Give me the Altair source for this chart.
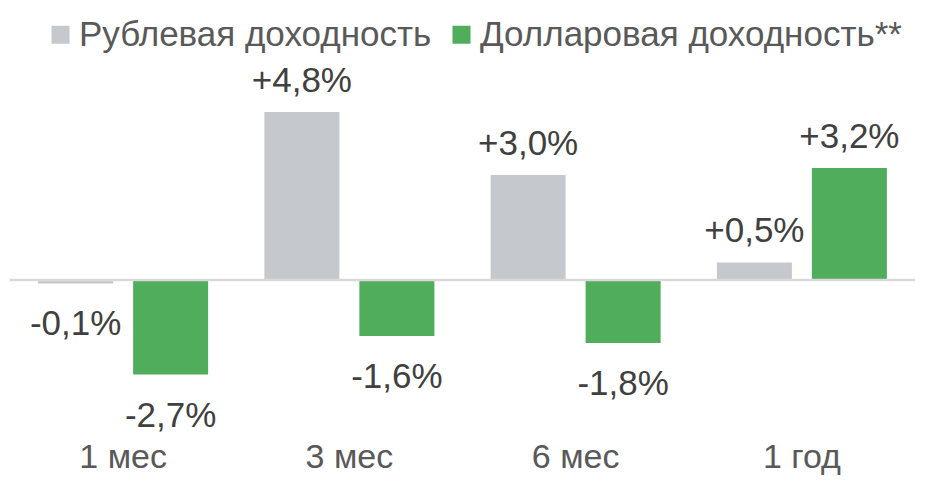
import altair as alt
import pandas as pd

periods = ["1 мес", "3 мес", "6 мес", "1 год"]
series = ["Рублевая доходность", "Долларовая доходность**"]
rub_values = [-0.1, 4.8, 3.0, 0.5]
usd_values = [-2.7, -1.6, -1.8, 3.2]
baseline_value = [0]
colors = ["#c5c8cc", "#4fad5b"]

rows = []
for p, r, u in zip(periods, rub_values, usd_values):
    rows.append({"period": p, "series": series[0], "value": r})
    rows.append({"period": p, "series": series[1], "value": u})
df = pd.DataFrame(rows)
df["label"] = df["value"].map(lambda v: f"{v:+.1f}%".replace(".", ","))
zero_df = pd.DataFrame({"value": baseline_value})

FONT = "Liberation Sans"
FS = 35
W, H = 916, 477

x_enc = alt.X("period:N", sort=periods,
              scale=alt.Scale(paddingInner=0, paddingOuter=0, range=[2, 907]),
              axis=alt.Axis(title=None, labelAngle=0, domain=False, ticks=False,
                            labelFont=FONT, labelFontSize=34, labelColor="#595959",
                            labelBaseline="alphabetic", labelPadding=0, offset=-18))
xoff = alt.XOffset("series:N", sort=series,
                   scale=alt.Scale(paddingInner=0.2105, paddingOuter=0.296))
y_enc = alt.Y("value:Q", scale=alt.Scale(domain=[-5.857, 7.771], nice=False, zero=False),
              axis=None)

bars = alt.Chart(df).mark_bar(strokeWidth=0).encode(
    x=x_enc, xOffset=xoff, y=y_enc,
    color=alt.Color("series:N", sort=series,
                    scale=alt.Scale(domain=series, range=colors),
                    legend=alt.Legend(title=None, orient="none", direction="horizontal",
                                      legendX=35, legendY=9,
                                      symbolType="square", symbolSize=324,
                                      labelFont=FONT, labelFontSize=FS,
                                      labelColor="#595959", labelOffset=1,
                                      columnPadding=12, labelLimit=500)),
)

zero = alt.Chart(zero_df).mark_rule(color="#d9d9d9", strokeWidth=2.5).encode(
    x=alt.value(2), x2=alt.value(907), y=y_enc)

pos_text = alt.Chart(df).transform_filter("datum.value >= 0").mark_text(
    font=FONT, fontSize=FS, color="#404040", baseline="middle", dy=-31
).encode(x=x_enc, xOffset=xoff, y=y_enc, text="label:N")
neg_text = alt.Chart(df).transform_filter("datum.value < 0").mark_text(
    font=FONT, fontSize=FS, color="#404040", baseline="middle", dy=41
).encode(x=x_enc, xOffset=xoff, y=y_enc, text="label:N")

chart = alt.layer(bars, zero, pos_text, neg_text).properties(
    width=W, height=H,
    autosize=alt.AutoSizeParams(type="none"),
    padding=0,
).configure_view(stroke=None)

chart.save("out.html", embed_options={"renderer": "svg", "actions": False})
